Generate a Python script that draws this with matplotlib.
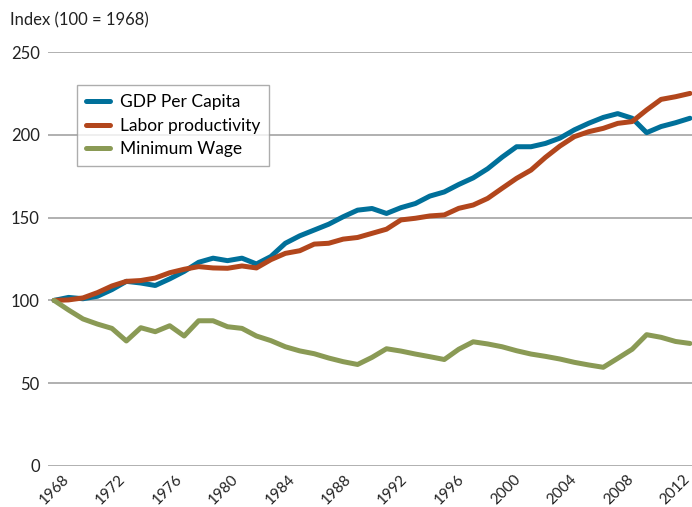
import numpy as np
import matplotlib.pyplot as plt
from matplotlib.transforms import ScaledTranslation

years = list(range(1968, 2013))

gdp_per_capita = [100, 101.8, 101, 102.5, 106.5, 111.5, 110.5, 109, 113, 117.5,
                  123, 125.5, 124, 125.5, 122, 126.5, 134.5, 139, 142.5, 146,
                  150.5, 154.5, 155.5, 152.5, 156, 158.5, 163, 165.5, 170, 174,
                  179.5, 186.5, 192.8, 192.8, 194.8, 198, 203, 207, 210.5, 212.8,
                  210, 201.3, 205, 207.3, 210]

labor_productivity = [100, 100.3, 101.5, 104.7, 108.7, 111.5, 112, 113.5, 116.7, 118.8,
                      120.4, 119.6, 119.4, 120.8, 119.6, 124.6, 128.4, 130, 134, 134.5,
                      137, 138, 140.5, 143, 148.6, 149.6, 151, 151.6, 155.6, 157.6,
                      161.6, 167.7, 173.7, 178.7, 186.4, 193.2, 198.9, 201.9, 203.9, 206.9,
                      208, 215, 221.4, 223, 225]

minimum_wage = [100, 94.2, 88.8, 85.7, 83.1, 75.5, 83.5, 81.1, 84.7, 78.5,
                87.7, 87.7, 84.1, 83.1, 78.5, 75.7, 72, 69.5, 67.8, 65.2,
                63, 61.3, 65.6, 70.8, 69.4, 67.6, 66, 64.3, 70.5, 75,
                73.7, 72, 69.6, 67.6, 66.2, 64.6, 62.6, 61, 59.6, 65,
                70.5, 79.3, 77.7, 75.2, 74]

series = [
    ("GDP Per Capita", gdp_per_capita, "#00709a"),
    ("Labor productivity", labor_productivity, "#b2461c"),
    ("Minimum Wage", minimum_wage, "#8a9a55"),
]

plt.rcParams["font.family"] = ["Lato", "DejaVu Sans"]

fig = plt.figure(figsize=(6.92, 5.07), dpi=100)
ax = fig.add_axes([0.0694, 0.0809, 0.9306, 0.8165])

for label, vals, color in series:
    ax.plot(years, vals, color=color, lw=3.6, label=label,
            solid_capstyle="round", solid_joinstyle="round", zorder=3)

ax.set_xlim(1967.58, 2012.14)
ax.set_ylim(0, 250)
ax.set_yticks([0, 50, 100, 150, 200, 250])
ax.set_xticks(list(range(1968, 2013, 4)))
ax.set_xticklabels([str(y) for y in range(1968, 2013, 4)], rotation=45,
                   ha="right", va="center", rotation_mode="anchor")
ax.tick_params(axis="both", length=0, colors="#222222")
ax.tick_params(axis="y", pad=6, labelsize=12)
ax.tick_params(axis="x", pad=8, labelsize=11)
# labels drift slightly left of their ticks toward the right end
for i, lbl in enumerate(ax.get_xticklabels()):
    dx = (13 - 1.4 * i) / 100
    lbl.set_transform(lbl.get_transform() + ScaledTranslation(dx, 0, fig.dpi_scale_trans))

ax.grid(axis="y", color="#aaaaaa", lw=1.3, zorder=0)
ax.set_axisbelow(True)
for s in ax.spines.values():
    s.set_visible(False)

fig.text(0.014, 0.96, "Index (100 = 1968)", fontsize=12, color="#222222", va="center")

leg = ax.legend(loc="upper left", bbox_to_anchor=(0.045, 0.92), fontsize=12.5,
                frameon=True, fancybox=False, handlelength=1.4, handletextpad=0.6,
                borderpad=0.5, labelspacing=0.45, borderaxespad=0)
leg.get_frame().set_edgecolor("#999999")
leg.get_frame().set_linewidth(1.0)

fig.savefig("out.png", dpi=100)
